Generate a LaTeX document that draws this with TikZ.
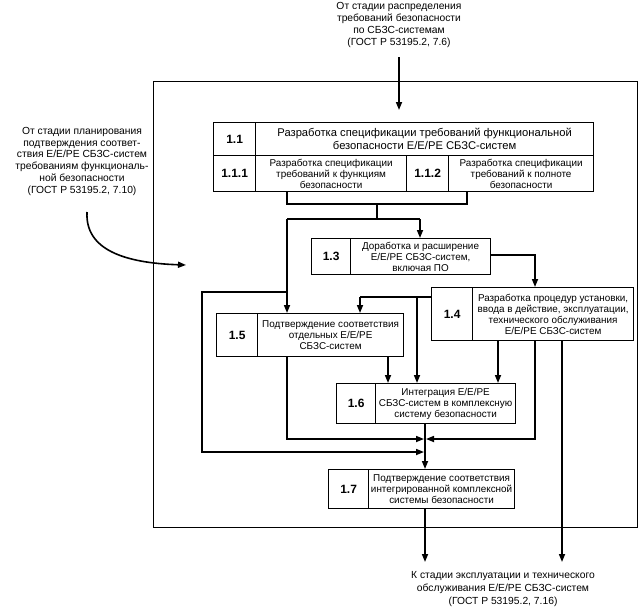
\documentclass[tikz,border=0pt]{standalone}
\usepackage{fontspec}
\setmainfont{Liberation Sans}
\usetikzlibrary{arrows.meta}
\begin{document}
\begin{tikzpicture}[x=1pt,y=-1pt,
 cell/.style={draw, line width=1.2pt, inner sep=0pt, anchor=north west, align=center},
 numc/.style={cell, font=\fontsize{12}{14}\selectfont\bfseries},
 txtc/.style={cell, font=\fontsize{9.9}{11}\selectfont},
 bigtxt/.style={cell, font=\fontsize{11.2}{12.8}\selectfont},
 ext/.style={align=center, inner sep=0pt},
 conn/.style={line width=1.6pt},
 arr/.style={conn, -{Triangle[length=8pt,width=6pt]}},
]
\useasboundingbox (0,0) rectangle (642,608);
% outer frame
\node[draw, line width=1.2pt, inner sep=0pt, anchor=north west, minimum width=484, minimum height=446] (frame) at (153,81) {};
% external texts
\node[ext, anchor=north, font=\fontsize{10.3}{12}\selectfont] (src) at (399,2) {От стадии распределения\\требований безопасности\\по СБЗС-системам\\(ГОСТ Р 53195.2, 7.6)};
\node[ext, anchor=north, font=\fontsize{10.3}{11.8}\selectfont] (plan) at (82,127) {От стадии планирования\\подтверждения соответ-\\ствия Е/Е/РЕ СБЗС-систем\\требованиям функциональ-\\ной безопасности\\(ГОСТ Р 53195.2, 7.10)};
\node[ext, anchor=north, font=\fontsize{10.3}{13}\selectfont] (dst) at (503,571) {К стадии эксплуатации и технического\\обслуживания Е/Е/РЕ СБЗС-систем\\(ГОСТ Р 53195.2, 7.16)};
% box 1.1
\node[numc, minimum width=42, minimum height=33] (n11) at (213,122) {1.1};
\node[bigtxt, minimum width=338, minimum height=33] (t11) at (255,122) {Разработка спецификации требований функциональной\\безопасности Е/Е/РЕ СБЗС-систем};
\node[numc, minimum width=42, minimum height=36] (n111) at (213,155) {1.1.1};
\node[txtc, minimum width=151, minimum height=36] (t111) at (255,155) {Разработка спецификации\\требований к функциям\\безопасности};
\node[numc, minimum width=42, minimum height=36] (n112) at (406,155) {1.1.2};
\node[txtc, minimum width=145, minimum height=36] (t112) at (448,155) {Разработка спецификации\\требований к полноте\\безопасности};
% box 1.3
\node[numc, minimum width=39, minimum height=36] (n13) at (311,238) {1.3};
\node[txtc, minimum width=140, minimum height=36] (t13) at (350,238) {Доработка и расширение\\Е/Е/РЕ СБЗС-систем,\\включая ПО};
% box 1.4
\node[numc, minimum width=41, minimum height=53] (n14) at (431,287) {1.4};
\node[txtc, minimum width=161, minimum height=53] (t14) at (472,287) {Разработка процедур установки,\\ввода в действие, эксплуатации,\\технического обслуживания\\Е/Е/РЕ СБЗС-систем};
% box 1.5
\node[numc, minimum width=41, minimum height=43] (n15) at (216,313) {1.5};
\node[txtc, minimum width=146, minimum height=43] (t15) at (257,313) {Подтверждение соответствия\\отдельных Е/Е/РЕ\\СБЗС-систем};
% box 1.6
\node[numc, minimum width=39, minimum height=40] (n16) at (336,383) {1.6};
\node[txtc, minimum width=140, minimum height=40] (t16) at (375,383) {Интеграция Е/Е/РЕ\\СБЗС-систем в комплексную\\систему безопасности};
% box 1.7
\node[numc, minimum width=40, minimum height=39] (n17) at (328,469) {1.7};
\node[txtc, minimum width=146, minimum height=39] (t17) at (368,469) {Подтверждение соответствия\\интегрированной комплексной\\системы безопасности};
% coordinates
\coordinate (inSrc) at (399,57);
\coordinate (inTip) at (399,110);
\coordinate (cvS) at (87,212);
\coordinate (cvE) at (186,265);
\coordinate (bL) at (287,204);
\coordinate (bR) at (467,204);
\coordinate (bC) at (377,204);
\coordinate (sp) at (377,219);
\coordinate (s1) at (287,219);
\coordinate (s3) at (420,219);
\coordinate (l1) at (287,292);
\coordinate (l2) at (202,292);
\coordinate (l3) at (202,452);
\coordinate (jA) at (424,452);
\coordinate (jB) at (425,439);
\coordinate (jBl) at (424,439);
\coordinate (jBr) at (426,439);
\coordinate (c34) at (535,255);
\coordinate (c45) at (360,297);
\coordinate (c46) at (417,297);
\coordinate (c56) at (388,370);
\coordinate (c57) at (287,439);
\coordinate (d1) at (498,360);
\coordinate (d2) at (535,439);
\coordinate (d3) at (562,562);
\coordinate (o1) at (425,562);
% connectors
\draw[arr] (inSrc) -- (inTip);
\draw[arr] (cvS) .. controls (85,250) and (125,263) .. (cvE);
\draw[conn] (bL |- t111.south) -- (bL) -- (bR) -- (bR |- t112.south);
\draw[conn] (bC) -- (sp);
\draw[conn] (s1) -- (s3);
\draw[arr] (s3) -- (s3 |- t13.north);
\draw[arr] (s1) -- (s1 |- t15.north);
\draw[arr] (l1) -- (l2) -- (l3) -- (jA);
\draw[arr] (c34 -| t13.east) -- (c34) -- (c34 |- t14.north);
\draw[conn] (c45 -| n14.west) -- (c45);
\draw[arr] (c45) -- (c45 |- t15.north);
\draw[arr] (c46) -- (c46 |- t16.north);
\draw[arr] (c56 |- t15.south) -- (c56 |- t16.north);
\draw[arr] (c57 |- t15.south) -- (c57) -- (jBl);
\draw[arr] (d1 |- t14.south) -- (d1 |- t16.north);
\draw[arr] (d2 |- t14.south) -- (d2) -- (jBr);
\draw[arr] (d3 |- t14.south) -- (d3);
\draw[arr] (jB |- t16.south) -- (jB |- t17.north);
\draw[arr] (o1 |- t17.south) -- (o1);
\end{tikzpicture}
\end{document}
